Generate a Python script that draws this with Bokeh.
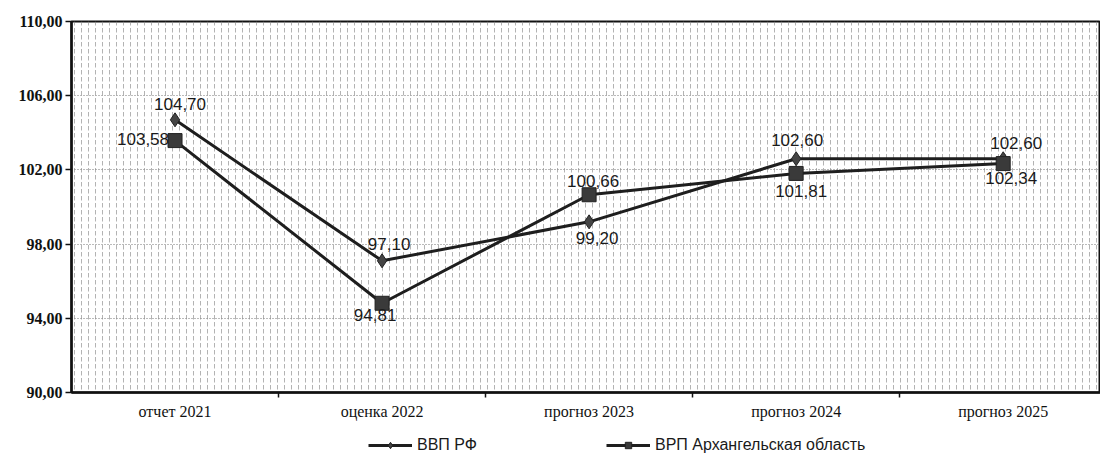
from bokeh.plotting import figure
from bokeh.layouts import column
from bokeh.models import (FixedTicker, Range1d, Legend, LegendItem, ColumnDataSource, BoxAnnotation)
from bokeh.core.properties import value
from bokeh.embed import file_html
from bokeh.resources import INLINE

categories = ["отчет 2021", "оценка 2022", "прогноз 2023", "прогноз 2024", "прогноз 2025"]
gdp_rf = [104.70, 97.10, 99.20, 102.60, 102.60]
grp_arh = [103.58, 94.81, 100.66, 101.81, 102.34]
y_ticks = [90, 94, 98, 102, 106, 110]
series_names = ["ВВП РФ", "ВРП Архангельская область"]

def fmt(v):
    return f"{v:.2f}".replace(".", ",")

xs = list(range(len(categories)))

p = figure(frame_width=1029, frame_height=371, output_backend="svg", toolbar_location=None,
           x_range=Range1d(-0.5, 4.47), y_range=Range1d(90, 110),
           min_border_left=71, min_border_right=0, min_border_top=21, min_border_bottom=33)
p.background_fill_color = "white"
p.border_fill_color = "white"
p.outline_line_color = "#111111"
p.outline_line_width = 2

p.add_layout(BoxAnnotation(fill_color=None, line_color=None,
                           hatch_pattern="vertical_dash", hatch_color="#8a8a8a",
                           hatch_scale=7, hatch_weight=1, hatch_alpha=0.65, level="underlay"))

# x axis
p.xaxis.axis_label = None
p.yaxis.axis_label = None
p.xaxis.ticker = FixedTicker(ticks=xs, minor_ticks=[i + 0.5 for i in xs[:-1]])
p.xaxis.major_label_overrides = {i: c for i, c in zip(xs, categories)}
p.xaxis.major_tick_out = 0
p.xaxis.major_tick_in = 0
p.xaxis.minor_tick_out = 5
p.xaxis.minor_tick_in = 0
p.xaxis.minor_tick_line_color = "#111111"
p.xaxis.minor_tick_line_width = 1.5
p.xaxis.axis_line_width = 2.5
p.xaxis.axis_line_color = "#111111"
p.xaxis.major_label_text_font = "Liberation Serif"
p.xaxis.major_label_text_font_size = "16px"
p.xaxis.major_label_text_color = "#111111"
p.xaxis.major_label_standoff = 5

# y axis
p.yaxis.ticker = FixedTicker(ticks=y_ticks)
p.yaxis.major_label_overrides = {t: fmt(t) for t in y_ticks}
p.yaxis.major_tick_out = 6
p.yaxis.major_tick_in = 0
p.yaxis.minor_tick_out = 0
p.yaxis.minor_tick_in = 0
p.yaxis.axis_line_width = 2.5
p.yaxis.axis_line_color = "#111111"
p.yaxis.major_tick_line_color = "#111111"
p.yaxis.major_tick_line_width = 1.5
p.yaxis.major_label_text_font = "Liberation Serif"
p.yaxis.major_label_text_font_style = "bold"
p.yaxis.major_label_text_font_size = "16px"
p.yaxis.major_label_text_color = "#111111"
p.yaxis.major_label_standoff = 3

p.xgrid.visible = False
p.ygrid.ticker = FixedTicker(ticks=y_ticks)
p.ygrid.grid_line_color = "#777777"
p.ygrid.grid_line_dash = "1 2"
p.ygrid.grid_line_width = 1

line_color = "#1e1e1e"
line_style = dict(line_color=line_color, line_width=3)
diamond_style = dict(marker="diamond", fill_color="#444444", line_color="#222222", line_width=1)
square_style = dict(marker="square", fill_color="#3a3a3a", line_color="#222222", line_width=1)

p.line(xs, gdp_rf, **line_style)
p.scatter(xs, gdp_rf, size=14, **diamond_style)
p.line(xs, grp_arh, **line_style)
p.scatter(xs, grp_arh, size=14, **square_style)

gdp_dx = [5, 7, 8, 1, 13]
gdp_dy = [-16, -17, 16, -19, -16]
grp_dx = [-32, -7, 4, 5, 8]
grp_dy = [-2, 12, -14, 18, 14]

for vals, dx, dy in ((gdp_rf, gdp_dx, gdp_dy), (grp_arh, grp_dx, grp_dy)):
    src = ColumnDataSource(dict(x=xs, y=vals, t=[fmt(v) for v in vals], dx=dx, dy=dy))
    p.text(x="x", y="y", text="t", x_offset="dx", y_offset="dy", source=src,
           text_font=value("Liberation Sans"), text_font_size="17px", text_color="#1a1a1a",
           text_align="center", text_baseline="middle")

# legend strip below the chart (its renderers use the series data, which lies outside this strip's ranges)
lf = figure(width=1100, height=30, output_backend="svg", toolbar_location=None,
            x_range=Range1d(-0.5, 4.47), y_range=Range1d(0, 1),
            x_axis_location=None, y_axis_location=None, min_border=0)
lf.outline_line_color = None
lf.grid.visible = False
lf.background_fill_color = "white"
ll1 = lf.line(xs, gdp_rf, **line_style)
lm1 = lf.scatter(xs, gdp_rf, size=14, **diamond_style)
ll2 = lf.line(xs, grp_arh, **line_style)
lm2 = lf.scatter(xs, grp_arh, size=14, **square_style)

legend = Legend(items=[LegendItem(label=series_names[0], renderers=[ll1, lm1]),
                       LegendItem(label=series_names[1], renderers=[ll2, lm2])],
                location=(297, 1), orientation="horizontal",
                background_fill_alpha=0, border_line_color=None,
                label_text_font="Liberation Sans", label_text_font_size="16px",
                label_text_color="#1a1a1a", glyph_width=44, glyph_height=16, label_height=18,
                spacing=129, padding=0, margin=0, label_standoff=5)
lf.add_layout(legend, "center")

open("out.html", "w").write(file_html(column(p, lf, spacing=0), INLINE))
